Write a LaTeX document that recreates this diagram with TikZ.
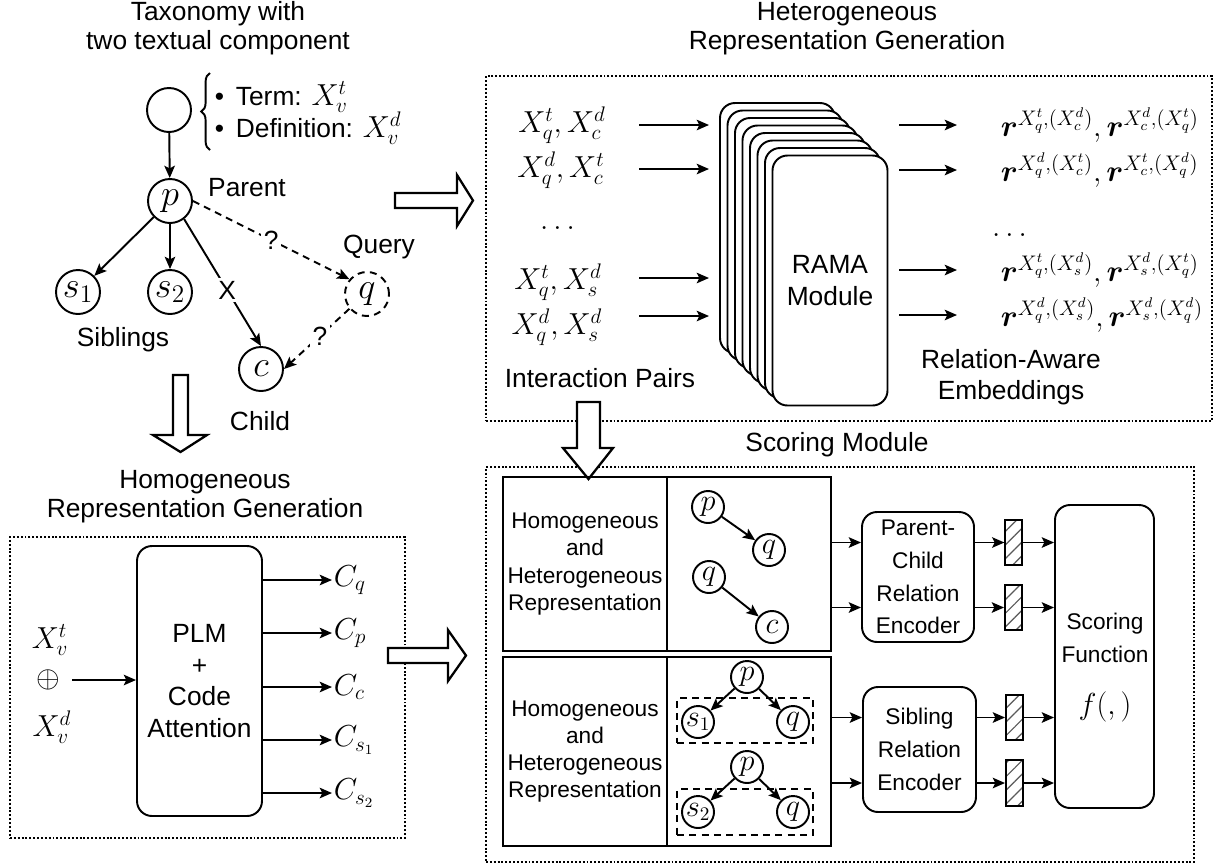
\documentclass[tikz,border=0pt]{standalone}
\usepackage{amsmath}
\usepackage{bm}
\usepackage{fontspec}
\setmainfont{Liberation Sans}
\usetikzlibrary{arrows.meta,fit,decorations.pathreplacing,patterns.meta}
\newcommand{\tx}{\fontsize{15}{16.5}\selectfont}
\newcommand{\smtx}{\fontsize{12.9}{15.5}\selectfont}
\newcommand{\mthsz}{\fontsize{17}{20}\selectfont}
\begin{document}
\begin{tikzpicture}[x=0.02cm,y=-0.02cm,line width=1.1pt,
  >={Stealth[length=7pt,width=6pt,inset=1.5pt]},
  t/.style={font=\tx,align=center,inner sep=0pt},
  mth/.style={font=\mthsz,inner sep=0pt},
  circ/.style={circle,draw,minimum size=0.88cm,inner sep=0pt,font=\fontsize{20}{20}\selectfont},
  mcirc/.style={circle,draw,minimum size=0.64cm,inner sep=0pt,font=\fontsize{16}{16}\selectfont,fill=white},
  dbox/.style={draw,dash pattern=on 1.1pt off 1.1pt,line width=1.1pt},
  dsh/.style={dash pattern=on 4pt off 3pt},
  rbox/.style={draw,rounded corners=0.3cm,fill=white,inner sep=0pt},
  sbox/.style={draw,inner sep=0pt},
  harrow/.style={draw,fill=white,line width=1.3pt,line join=miter},
  hatch/.style={draw,inner sep=0pt,pattern={Lines[angle=45,distance=5.5pt,line width=0.7pt]},pattern color=black!65}]
\path[fill=white] (0,0) rectangle (1214,867);
\useasboundingbox (0,0) rectangle (1214,867);

% ---------------- Taxonomy (top-left) ----------------
\node[t] (ttl1) at (218,28.5) {Taxonomy with\\two textual component};
\node[circ] (root) at (169,110) {};
\draw[decorate,decoration={brace,amplitude=5pt}] (210,150) -- (210,73);
\node[font=\tx,anchor=west,inner sep=0pt] (term) at (214,97) {\textbullet\ \,Term: {\mthsz$X_v^t$}};
\node[font=\tx,anchor=west,inner sep=0pt] (defn) at (214,128) {\textbullet\ \,Definition: {\mthsz$X_v^d$}};
\node[circ] (p) at (170,201) {$p$};
\node[circ] (s1) at (78,292) {$s_1$};
\node[circ] (s2) at (170,292) {$s_2$};
\node[circ,dsh] (q) at (367,294) {$q$};
\node[circ] (c) at (261,369) {$c$};
\node[t] (lpar) at (247,188) {Parent};
\node[t] (lqry) at (379,247) {Query};
\node[t] (lsib) at (123,340) {Siblings};
\node[t] (lchd) at (260,421) {Child};
\draw[->] (root) -- (p);
\draw[->] (p) -- (s1);
\draw[->] (p) -- (s2);
\draw[->] (p.-52) -- node[t,fill=white,inner sep=1.5pt,pos=0.56] (xlab) {X} (c.north);
\draw[->,dsh] (p.east) -- node[t,fill=white,inner sep=1.5pt,pos=0.5] (qm1) {?} (q.140);
\draw[->,dsh] (q.220) -- node[t,fill=white,inner sep=1.5pt,pos=0.45] (qm2) {?} (c.east);

% hollow arrows
\draw[harrow] (395,193) -- (457,193) -- (457,175) -- (473,200.5) -- (457,226) -- (457,208) -- (395,208) -- cycle;
\draw[harrow] (173,375) -- (173,435) -- (153,435) -- (180.5,452) -- (207,435) -- (188,435) -- (188,375) -- cycle;

% ---------------- Heterogeneous (top-right) ----------------
\node[t] (ttl2) at (847,28.5) {Heterogeneous\\Representation Generation};
\node[dbox,fit={(486,76)(1212,421)},inner sep=0pt] (hetbox) {};
\node[mth] (ip1) at (562,125) {$X_q^t, X_c^d$};
\node[mth] (ip2) at (561,170) {$X_q^d, X_c^t$};
\node[mth] (ipd) at (560,228) {$\dots$};
\node[mth] (ip3) at (558,282) {$X_q^t, X_s^d$};
\node[mth] (ip4) at (557,327) {$X_q^d, X_s^d$};
\node[t] (lip) at (600,378) {Interaction Pairs};
\foreach \i in {0,...,7}{
  \node[rbox,fit={({720+7.5*\i},{103+7.5*\i})({835+7.5*\i},{353+7.5*\i})}] (st\i) {};
}
\node[t,font=\fontsize{15}{18}\selectfont] (rama) at (st7.center) {RAMA\\Module};
\foreach \y/\n in {125/1,169/2,278/3,316/4}{
  \coordinate (la\n) at (639,\y);
  \coordinate (lb\n) at (709,\y);
  \draw[->] (la\n) -- (lb\n);
}
\foreach \y/\n in {125/1,170/2,270/3,315/4}{
  \coordinate (ra\n) at (899,\y);
  \coordinate (rb\n) at (957,\y);
  \draw[->] (ra\n) -- (rb\n);
}
\node[mth,anchor=west] (re1) at (1000,125) {$\bm{r}^{X_q^t,(X_c^d)}, \bm{r}^{X_c^d,(X_q^t)}$};
\node[mth,anchor=west] (re2) at (1000,170) {$\bm{r}^{X_q^d,(X_c^t)}, \bm{r}^{X_c^t,(X_q^d)}$};
\node[mth] (red) at (1012,235) {$\dots$};
\node[mth,anchor=west] (re3) at (1000,270) {$\bm{r}^{X_q^t,(X_s^d)}, \bm{r}^{X_s^d,(X_q^t)}$};
\node[mth,anchor=west] (re4) at (1000,315) {$\bm{r}^{X_q^d,(X_s^d)}, \bm{r}^{X_s^d,(X_q^d)}$};
\node[t,font=\fontsize{15}{17.6}\selectfont] (lre) at (1011,377) {Relation-Aware\\Embeddings};

% ---------------- Homogeneous (bottom-left) ----------------
\node[t] (ttl3) at (205,497) {Homogeneous\\Representation Generation};
\node[dbox,fit={(10,537)(405,838)},inner sep=0pt] (hombox) {};
\node[rbox,fit={(137,546)(262,816)}] (plm) {};
\node[t,font=\fontsize{15}{18}\selectfont] (plmt) at (plm.center) {PLM\\+\\Code\\Attention};
\node[mth] (xvt) at (50,640) {$X_v^t$};
\node[mth] (opl) at (48,680) {$\oplus$};
\node[mth] (xvd) at (52,727) {$X_v^d$};
\coordinate (inA) at (72,680);
\draw[->] (inA) -- (inA -| plm.west);
\foreach \y/\n/\lab in {580/1/C_q,633/2/C_p,687/3/C_c,740/4/C_{s_1},793/5/C_{s_2}}{
  \coordinate (oa\n) at (263,\y);
  \coordinate (ob\n) at (332,\y);
  \draw[->] (oa\n) -- (ob\n);
  \node[mth,anchor=west] (oc\n) at (333,\y) {$\lab$};
}
\draw[harrow] (388,648) -- (448,648) -- (448,630) -- (466,655.5) -- (448,681) -- (448,663) -- (388,663) -- cycle;

% ---------------- Scoring module ----------------
\node[t] (ttl4) at (837,445) {Scoring Module};
\node[dbox,fit={(486,467)(1194,862)},inner sep=0pt] (scbox) {};
\draw[harrow] (577,402) -- (577,448) -- (563,448) -- (588.5,479) -- (613,448) -- (600,448) -- (600,402) -- cycle;
\node[sbox,fit={(503,477)(667,651)}] (tl1) {};
\node[font=\smtx,align=center,inner sep=0pt] at (tl1.center) {Homogeneous\\and\\Heterogeneous\\Representation};
\node[sbox,fit={(667,477)(831,651)}] (tr1) {};
\node[sbox,fit={(503,657)(667,846)}] (tl2) {};
\node[font=\smtx,align=center,inner sep=0pt] at (tl2.center) {Homogeneous\\and\\Heterogeneous\\Representation};
\node[sbox,fit={(667,657)(831,846)}] (tr2) {};
% mini graphs
\node[mcirc] (mp1) at (708,507) {$p$};
\node[mcirc] (mq1) at (769,550) {$q$};
\node[mcirc] (mq2) at (709,577) {$q$};
\node[mcirc] (mc2) at (772,627) {$c$};
\draw[->] (mp1) -- (mq1);
\draw[->] (mq2) -- (mc2);
\node[draw,dsh,line width=0.9pt,fit={(677,698)(813,743)},inner sep=0pt] (dr1) {};
\node[draw,dsh,line width=0.9pt,fit={(677,789)(813,835)},inner sep=0pt] (dr2) {};
\node[mcirc] (mp3) at (747,677) {$p$};
\node[mcirc] (ms3) at (698,722) {$s_1$};
\node[mcirc] (mq3) at (793,722) {$q$};
\draw[->] (mp3) -- (ms3);
\draw[->] (mp3) -- (mq3);
\node[mcirc] (mp4) at (747,767) {$p$};
\node[mcirc] (ms4) at (698,812) {$s_2$};
\node[mcirc] (mq4) at (793,812) {$q$};
\draw[->] (mp4) -- (ms4);
\draw[->] (mp4) -- (mq4);
% encoders
\node[rbox,fit={(862,512)(974,642)}] (pce) {};
\node[font=\fontsize{12.9}{18.6}\selectfont,align=center,inner sep=0pt] at (pce.center) {Parent-\\Child\\Relation\\Encoder};
\node[rbox,fit={(863,687)(976,812)}] (sre) {};
\node[font=\fontsize{12.9}{18.6}\selectfont,align=center,inner sep=0pt] at (sre.center) {Sibling\\Relation\\Encoder};
\node[rbox,fit={(1055,505)(1154,808)}] (sf) {};
\node[font=\fontsize{12.9}{18.6}\selectfont,align=center,inner sep=0pt] (sft) at (1105,638) {Scoring\\Function};
\node[mth] (fx) at (1105,707) {$f(,)$};
% hatched vectors
\node[hatch,fit={(1005,520)(1022,565)}] (h1) {};
\node[hatch,fit={(1005,585)(1022,630)}] (h2) {};
\node[hatch,fit={(1006,695)(1023,740)}] (h3) {};
\node[hatch,fit={(1006,760)(1023,806)}] (h4) {};
\draw[->] (tr1.east |- h1) -- (pce.west |- h1);
\draw[->] (tr1.east |- h2) -- (pce.west |- h2);
\draw[->] (tr2.east |- h3) -- (sre.west |- h3);
\draw[->] (tr2.east |- h4) -- (sre.west |- h4);
\draw[->] (pce.east |- h1) -- (h1.west);
\draw[->] (pce.east |- h2) -- (h2.west);
\draw[->] (sre.east |- h3) -- (h3.west);
\draw[->] (sre.east |- h4) -- (h4.west);
\draw[->] (h1.east) -- (h1.east -| sf.west);
\draw[->] (h2.east) -- (h2.east -| sf.west);
\draw[->] (h3.east) -- (h3.east -| sf.west);
\draw[->] (h4.east) -- (h4.east -| sf.west);
\end{tikzpicture}
\end{document}
